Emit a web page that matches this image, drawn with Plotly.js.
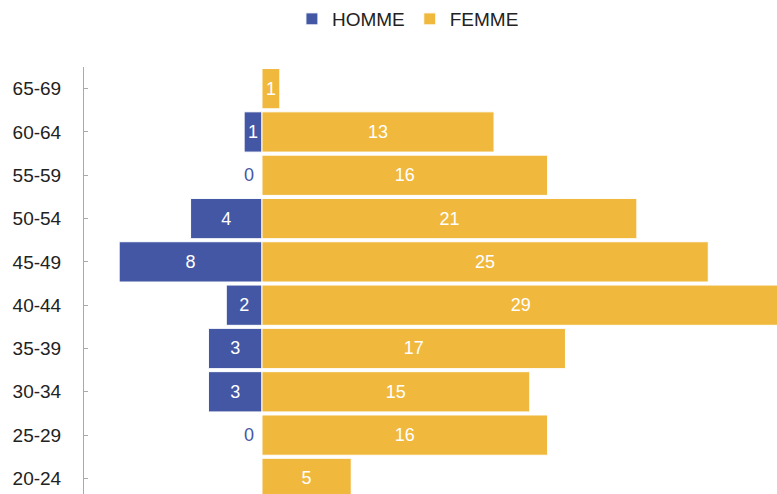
<!DOCTYPE html>
<html>
<head>
<meta charset="utf-8">
<script src="https://cdn.plot.ly/plotly-3.0.1.min.js"></script>
<style>html,body{margin:0;padding:0;background:#fff}#chart{width:777px;height:494px}</style>
</head>
<body>
<div id="chart"></div>
<script>
const categories = ["20-24","25-29","30-34","35-39","40-44","45-49","50-54","55-59","60-64","65-69"];
const homme = [null, 0, 3, 3, 2, 8, 4, 0, 1, null];
const femme = [5, 16, 15, 17, 29, 25, 21, 16, 13, 1];

const BLUE = "#4357A5";
const GOLD = "#F0B93E";
const FONT = "Liberation Sans, Arial, sans-serif";

const hommeNeg = homme.map(v => v === null ? null : -v);
const hommeText = homme.map(v => (v === null || v === 0) ? "" : String(v));
const femmeText = femme.map(v => v === null ? "" : String(v));

const traces = [
  {
    type: "bar", orientation: "h", name: "HOMME",
    y: categories, x: hommeNeg, text: hommeText,
    textposition: "inside", insidetextanchor: "middle",
    textfont: {color: "#fff", size: 18, family: FONT},
    constraintext: "none",
    marker: {color: BLUE, line: {color: "#fff", width: 1}},
    hoverinfo: "skip"
  },
  {
    type: "bar", orientation: "h", name: "FEMME",
    y: categories, x: femme, text: femmeText,
    textposition: "inside", insidetextanchor: "middle",
    textfont: {color: "#fff", size: 18, family: FONT},
    constraintext: "none",
    marker: {color: GOLD, line: {color: "#fff", width: 1}},
    hoverinfo: "skip"
  }
];

const annotations = [];
homme.forEach((v, i) => {
  if (v === 0) {
    annotations.push({
      x: 0, y: categories[i], xref: "x", yref: "y",
      text: "0", showarrow: false, xanchor: "right", xshift: -6,
      font: {color: BLUE, size: 18, family: FONT}
    });
  }
});

const layout = {
  width: 777, height: 494,
  margin: {l: 84, r: 0, t: 67, b: 0, pad: 0},
  paper_bgcolor: "#fff", plot_bgcolor: "#fff",
  barmode: "relative", bargap: 0.07,
  font: {family: FONT, color: "#222"},
  showlegend: true,
  legend: {
    orientation: "h", xref: "container", yref: "container",
    x: 0.525, xanchor: "center", y: 1, yanchor: "top",
    font: {size: 19, color: "#222", family: FONT},
    traceorder: "normal", itemwidth: 30
  },
  xaxis: {
    range: [-9.97, 28.85], visible: false, fixedrange: true
  },
  yaxis: {
    type: "category", categoryorder: "array", categoryarray: categories,
    range: [-0.36, 9.5],
    showline: true, linecolor: "#aaa", linewidth: 1,
    ticks: "inside", ticklen: 4, tickcolor: "#aaa",
    ticklabelstandoff: 18,
    tickfont: {size: 19, color: "#222", family: FONT},
    showgrid: false, zeroline: false, fixedrange: true
  },
  annotations: annotations
};

Plotly.newPlot("chart", traces, layout, {displayModeBar: false, staticPlot: true});
</script>
</body>
</html>
